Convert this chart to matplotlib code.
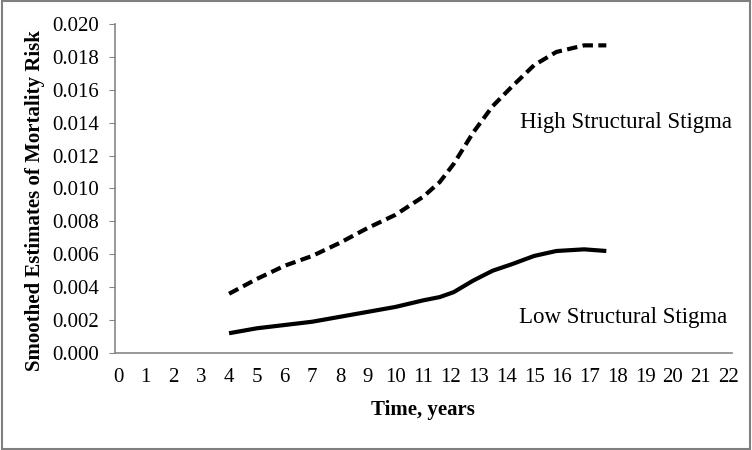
import matplotlib
matplotlib.use("Agg")
import matplotlib.pyplot as plt
from matplotlib.patches import Rectangle

plt.rcParams['font.family'] = ['Liberation Serif', 'DejaVu Serif']

# smoothed mortality risk by time (years)
years = [4, 5, 6, 7, 8, 9, 10, 11, 11.6, 12.1, 12.8, 13.5, 14.2, 15, 15.8, 16.8, 17.6]
high_stigma = [0.0036, 0.0045, 0.0053, 0.0059, 0.0067, 0.0076, 0.0084, 0.0095, 0.0104,
               0.0115, 0.0134, 0.0150, 0.0162, 0.0175, 0.0183, 0.0187, 0.0187]
low_stigma = [0.0012, 0.0015, 0.0017, 0.0019, 0.0022, 0.0025, 0.0028, 0.0032, 0.0034,
              0.0037, 0.0044, 0.0050, 0.0054, 0.0059, 0.0062, 0.0063, 0.0062]
x_ticks = list(range(0, 23))
y_ticks = [i * 0.002 for i in range(11)]

fig = plt.figure(figsize=(7.52, 4.5), dpi=100)
ax = fig.add_axes([0.153, 0.2156, 0.82, 0.7311])

ax.plot(years, high_stigma, color='black', lw=3, linestyle=(0, (2.5, 1.3)))
ax.plot(years, low_stigma, color='black', lw=3, solid_capstyle='butt')

ax.text(14.5, 0.0140, "High Structural Stigma", fontsize=16.5, va='center', ha='left')
ax.text(14.45, 0.00215, "Low Structural Stigma", fontsize=16.5, va='center', ha='left')

ax.set_xlim(-0.11, 22.12)
ax.set_ylim(0, 0.020)
ax.set_xticks(x_ticks)
ax.set_yticks(y_ticks)
ax.set_yticklabels(["%.3f" % v for v in y_ticks])
ax.tick_params(axis='x', length=0, labelsize=15, pad=11)
ax.tick_params(axis='y', length=4.3, color='#868686', labelsize=15, pad=7)

for side in ['top', 'right']:
    ax.spines[side].set_visible(False)
for side in ['left', 'bottom']:
    ax.spines[side].set_color('#868686')
    ax.spines[side].set_linewidth(1.2)

ax.set_xlabel("Time, years", fontsize=15, fontweight='bold', labelpad=9)
ax.set_ylabel("Smoothed Estimates of Mortality Risk", fontsize=15, fontweight='bold')
ax.yaxis.set_label_coords(-0.113, 0.4635)

# outer border
fig.patches.append(Rectangle((0.002, 0.003), 0.996, 0.994, transform=fig.transFigure,
                             fill=False, edgecolor='#7f7f7f', lw=1.5))

fig.savefig('out.png', dpi=100)
